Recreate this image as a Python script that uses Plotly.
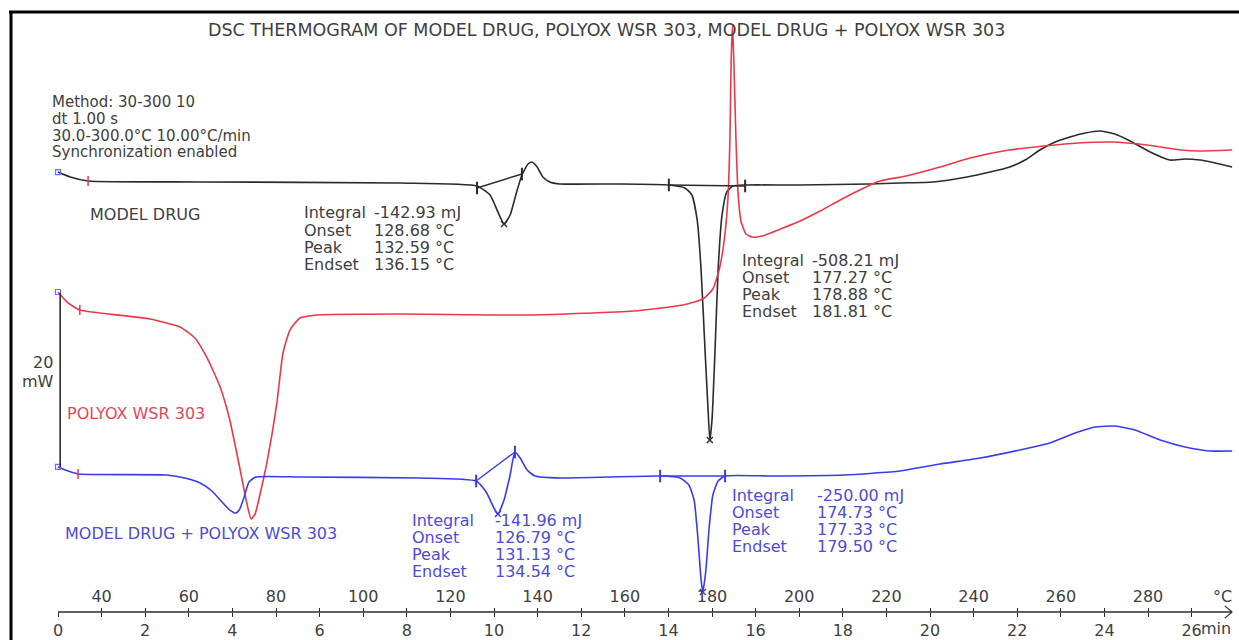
import plotly.graph_objects as go

# ---------------- data (time in min, heat flow in mW, arbitrary offsets) -------------
drug_t = [0, 0.28, 0.69, 3.26, 7.84, 9.61, 9.91, 10.09, 10.23, 10.37, 10.50, 10.64, 10.78,
          10.87, 10.99, 11.12, 11.28, 11.51, 12.89, 14.01, 14.38, 14.54, 14.66, 14.75, 14.84,
          14.91, 14.95, 15.00, 15.07, 15.14, 15.23, 15.34, 15.48, 15.76, 17.02, 18.62, 19.31,
          20.07, 20.85, 21.38, 21.83, 22.18, 22.52, 22.87, 23.21, 23.56, 23.90, 24.24, 24.59,
          25.05, 25.50, 25.85, 26.19, 26.54, 26.93]
drug_mw = [50.57, 50.00, 49.54, 49.43, 49.31, 48.97, 47.93, 45.98, 44.60, 45.63, 47.93, 50.23,
           51.49, 51.72, 51.15, 50.00, 49.43, 49.20, 49.20, 49.08, 48.74, 47.93, 45.06, 39.31,
           30.11, 23.22, 19.77, 22.07, 30.11, 39.31, 45.63, 48.28, 48.97, 49.08, 49.08, 49.20,
           49.31, 49.43, 50.00, 50.57, 51.15, 51.95, 53.10, 54.02, 54.60, 55.06, 55.29, 54.94,
           54.14, 52.87, 51.95, 52.07, 51.95, 51.61, 51.15]

polyox_t = [0, 0.23, 0.50, 0.96, 2.11, 2.80, 3.14, 3.42, 3.72, 3.94, 4.17, 4.33, 4.43, 4.52,
            4.63, 4.79, 5.02, 5.16, 5.32, 5.55, 5.94, 7.84, 10.89, 13.19, 14.33, 14.79, 15.02,
            15.18, 15.30, 15.37, 15.41, 15.44, 15.47, 15.50, 15.55, 15.60, 15.67, 15.78, 15.92,
            16.15, 16.63, 17.02, 17.48, 17.94, 18.39, 18.85, 19.45, 20.23, 20.92, 21.81, 22.61,
            23.39, 24.17, 24.98, 25.76, 26.19, 26.93]
polyox_mw = [36.78, 35.52, 34.71, 34.37, 33.68, 32.76, 31.49, 29.20, 25.86, 22.07, 16.55, 12.53,
             10.69, 11.26, 13.45, 17.13, 24.02, 29.77, 32.41, 33.79, 34.14, 34.25, 34.14, 34.60,
             35.29, 35.98, 37.13, 39.66, 43.56, 47.93, 54.25, 63.45, 67.5, 63.45, 54.25, 47.93,
             44.83, 43.45, 43.10, 43.22, 44.14, 44.94, 46.09, 47.36, 48.51, 49.54, 50.11, 51.15,
             52.18, 53.10, 53.56, 53.91, 54.02, 53.68, 53.10, 52.99, 53.10]

mix_t = [0, 0.23, 0.46, 2.50, 2.91, 3.26, 3.53, 3.76, 3.94, 4.08, 4.17, 4.27, 4.38, 4.54, 5.55,
         8.30, 9.59, 9.82, 10.00, 10.09, 10.23, 10.37, 10.48, 10.60, 10.76, 10.94, 11.51, 13.81,
         14.27, 14.47, 14.59, 14.68, 14.75, 14.79, 14.86, 14.93, 15.02, 15.14, 15.30, 16.40,
         18.03, 19.31, 20.23, 21.15, 22.06, 22.75, 23.33, 23.78, 24.24, 24.70, 25.28, 25.85,
         26.42, 26.93]
mix_mw = [16.67, 16.21, 15.86, 15.75, 15.40, 14.83, 13.91, 12.64, 11.72, 11.38, 11.84, 13.22,
          14.94, 15.52, 15.52, 15.40, 15.06, 13.79, 11.95, 11.26, 12.87, 15.75, 18.39, 17.70,
          16.32, 15.63, 15.40, 15.63, 15.40, 14.60, 12.87, 8.28, 3.68, 2.30, 4.83, 9.43, 13.45,
          15.06, 15.63, 15.63, 15.75, 16.21, 17.01, 17.70, 18.62, 19.43, 20.57, 21.26, 21.38,
          20.92, 19.77, 18.97, 18.51, 18.51]

# integration limits / baselines and peak marks
drug_limits_t = [9.61, 10.64, 14.01, 15.76]
drug_limits_mw = [48.74, 50.34, 49.08, 48.97]
drug_peaks_t = [10.23, 14.95]
drug_peaks_mw = [44.60, 19.77]
mix_limits_t = [9.59, 10.48, 13.81, 15.30]
mix_limits_mw = [15.06, 18.39, 15.63, 15.63]
mix_peaks_t = [10.09, 14.79]
mix_peaks_mw = [11.26, 2.30]

start_t = [0, 0, 0]
start_mw = [50.57, 36.78, 16.67]
scale_bar_mw = [16.67, 36.67]  # 20 mW

min_tick_vals = list(range(0, 27))
min_tick_text = ["0", "", "2", "", "4", "", "6", "", "8", "", "10", "", "12", "", "14", "",
                 "16", "", "18", "", "20", "", "22", "", "24", "", "26"]
temp_tick_vals = list(range(1, 27))
temp_tick_text = ["40", "", "60", "", "80", "", "100", "", "120", "", "140", "", "160", "",
                  "180", "", "200", "", "220", "", "240", "", "260", "", "280", ""]

drug_block1 = [("Integral", "-142.93 mJ"), ("Onset", "128.68 °C"), ("Peak", "132.59 °C"), ("Endset", "136.15 °C")]
drug_block2 = [("Integral", "-508.21 mJ"), ("Onset", "177.27 °C"), ("Peak", "178.88 °C"), ("Endset", "181.81 °C")]
mix_block1 = [("Integral", "-141.96 mJ"), ("Onset", "126.79 °C"), ("Peak", "131.13 °C"), ("Endset", "134.54 °C")]
mix_block2 = [("Integral", "-250.00 mJ"), ("Onset", "174.73 °C"), ("Peak", "177.33 °C"), ("Endset", "179.50 °C")]
method_lines = ["Method: 30-300 10", "dt 1.00 s", "30.0-300.0°C 10.00°C/min", "Synchronization enabled"]

# ---------------- styling ----------------
W, H = 1239, 640
X0PX, PXMIN = 58.0, 43.6
Y0PX, PXMW = 612.0, 8.7
BLACK, RED, BLUE = "#2b2b2b", "#e8394a", "#3b3bea"
TXT, RTXT, BTXT = "#404040", "#e0485a", "#4c4cd6"
FONT = "DejaVu Sans"
TSIZE = 16

xr = [-X0PX / PXMIN, (W - X0PX) / PXMIN]
yr = [-(H - Y0PX) / PXMW, Y0PX / PXMW]
axis_pos = (H - Y0PX) / H


def px(x):
    return x / W


def py(y):
    return 1 - y / H


fig = go.Figure()

line_kw = dict(shape="spline", smoothing=0.5, width=1.6)
fig.add_trace(go.Scatter(x=drug_t, y=drug_mw, mode="lines", line=dict(color=BLACK, **line_kw)))
fig.add_trace(go.Scatter(x=polyox_t, y=polyox_mw, mode="lines", line=dict(color=RED, **line_kw)))
fig.add_trace(go.Scatter(x=mix_t, y=mix_mw, mode="lines", line=dict(color=BLUE, **line_kw)))

# integration baselines
for i in range(0, 4, 2):
    fig.add_trace(go.Scatter(x=drug_limits_t[i:i + 2], y=drug_limits_mw[i:i + 2], mode="lines+markers",
                             line=dict(color=BLACK, width=1.4),
                             marker=dict(symbol="line-ns", size=9, line=dict(color=BLACK, width=2))))
    fig.add_trace(go.Scatter(x=mix_limits_t[i:i + 2], y=mix_limits_mw[i:i + 2], mode="lines+markers",
                             line=dict(color=BLUE, width=1.4),
                             marker=dict(symbol="line-ns", size=9, line=dict(color=BLUE, width=2))))
fig.add_trace(go.Scatter(x=drug_peaks_t, y=drug_peaks_mw, mode="markers",
                         marker=dict(symbol="x-thin", size=6, line=dict(color=BLACK, width=1.4))))
fig.add_trace(go.Scatter(x=mix_peaks_t, y=mix_peaks_mw, mode="markers",
                         marker=dict(symbol="x-thin", size=6, line=dict(color=BLUE, width=1.4))))
# start marks
fig.add_trace(go.Scatter(x=[drug_t[2], polyox_t[2], mix_t[2]], y=[drug_mw[2], polyox_mw[2], mix_mw[2]],
                         mode="markers", marker=dict(symbol="line-ns", size=7, line=dict(color=RED, width=1.5))))
fig.add_trace(go.Scatter(x=start_t, y=start_mw, mode="markers",
                         marker=dict(symbol="square-open", size=5, line=dict(color=RED, width=1.2))))
# scale bar 20 mW
fig.add_trace(go.Scatter(x=[0.05, 0.05], y=scale_bar_mw, mode="lines", line=dict(color=BLACK, width=1.6)))
# dummy trace to activate temperature axis
fig.add_trace(go.Scatter(x=[0], y=[None], xaxis="x2", mode="markers", showlegend=False))

fig.update_traces(hoverinfo="skip", showlegend=False)

# axis line
fig.add_shape(type="line", x0=0, x1=26.93, y0=0, y1=0, xref="x", yref="y",
              line=dict(color=BLACK, width=1.4))
# end arrow
fig.add_shape(type="line", x0=26.93, x1=26.76, y0=0, y1=0.7, line=dict(color=BLACK, width=1.2))
fig.add_shape(type="line", x0=26.93, x1=26.76, y0=0, y1=-0.7, line=dict(color=BLACK, width=1.2))
# frame
fig.add_shape(type="line", xref="paper", yref="paper", x0=px(9), x1=1, y0=py(12), y1=py(12),
              line=dict(color="black", width=3))
fig.add_shape(type="line", xref="paper", yref="paper", x0=px(11), x1=px(11), y0=py(11), y1=0,
              line=dict(color="black", width=3))

ann = []


def add_text(x, y, text, color=TXT, size=TSIZE, anchor="left"):
    ann.append(dict(x=px(x), y=py(y), xref="paper", yref="paper", text=text, showarrow=False,
                    xanchor=anchor, yanchor="middle", font=dict(family=FONT, size=size, color=color)))


add_text(606, 30, "DSC THERMOGRAM OF MODEL DRUG, POLYOX WSR 303, MODEL DRUG + POLYOX WSR 303",
         size=17.5, anchor="center")
for i, s in enumerate(method_lines):
    add_text(50, 102 + 16.8 * i, s, size=15)
add_text(88, 214, "MODEL DRUG")
add_text(65, 413, "POLYOX WSR 303", RTXT)
add_text(63, 533, "MODEL DRUG + POLYOX WSR 303", BTXT)
add_text(43, 362, "20", anchor="center")
add_text(38, 381, "mW", anchor="center")


def block(x_lab, x_val, y0, rows, color, dy=17):
    for i, (a, b) in enumerate(rows):
        add_text(x_lab, y0 + dy * i, a, color)
        add_text(x_val, y0 + dy * i, b, color)


block(302, 372, 213, drug_block1, TXT)
block(740, 810, 260, drug_block2, TXT)
block(410, 493, 520, mix_block1, BTXT)
block(730, 815, 495, mix_block2, BTXT)
add_text(1222, 596, "°C", anchor="center")
add_text(1199, 628, "min")

tickfont = dict(family=FONT, size=16, color=TXT)
fig.update_layout(
    width=W, height=H,
    margin=dict(l=0, r=0, t=0, b=0),
    paper_bgcolor="white", plot_bgcolor="white",
    showlegend=False,
    annotations=ann,
    xaxis=dict(range=xr, anchor="free", position=axis_pos, side="bottom",
               showgrid=False, zeroline=False, showline=False,
               tickmode="array", tickvals=min_tick_vals, ticktext=min_tick_text,
               ticks="outside", ticklen=4, tickwidth=1.4, tickcolor=BLACK, tickfont=tickfont),
    xaxis2=dict(range=xr, overlaying="x", anchor="free", position=axis_pos, side="top",
                showgrid=False, zeroline=False, showline=False,
                tickmode="array", tickvals=temp_tick_vals, ticktext=temp_tick_text,
                ticks="outside", ticklen=4, tickwidth=1.4, tickcolor=BLACK, tickfont=tickfont),
    yaxis=dict(range=yr, visible=False, showgrid=False, zeroline=False),
)

fig.write_html("out.html")
